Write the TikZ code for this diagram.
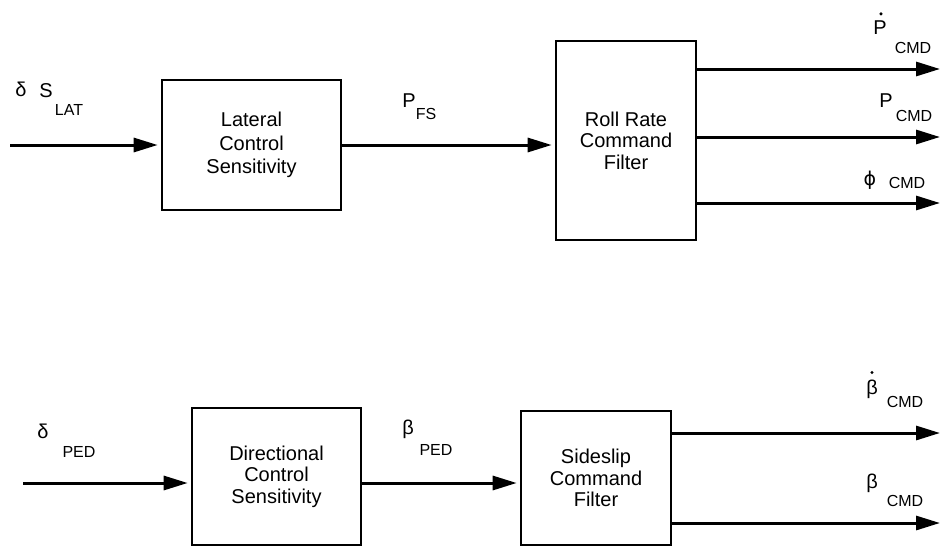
\documentclass[tikz,border=0pt]{standalone}
\usepackage{fontspec}
\setmainfont{Liberation Sans}
\newfontfamily\dvs{DejaVu Sans}
\usetikzlibrary{arrows.meta}
\begin{document}
\begin{tikzpicture}[x=1pt,y=-1pt,
  blk/.style={draw,line width=2.6pt,inner sep=0pt,align=center,font=\fontsize{20}{21.5}\selectfont},
  sig/.style={line width=3pt,-{Triangle[length=24pt,width=14pt]}},
  sym/.style={inner sep=0pt,font=\fontsize{20}{20}\selectfont},
  sub/.style={inner sep=0pt,font=\fontsize{16}{16}\selectfont},
  dotmark/.style={fill=black}
]
\useasboundingbox (0,0) rectangle (941,549);

% blocks
\node[blk,minimum width=179pt,minimum height=130pt,font=\fontsize{20}{23.5}\selectfont] (b1) at (251.5,145) {Lateral\\Control\\Sensitivity};
\node[blk,minimum width=140pt,minimum height=199pt] (b2) at (626,140.5) {Roll Rate\\Command\\Filter};
\node[blk,minimum width=169pt,minimum height=137pt] (b3) at (276.5,476.5) {Directional\\Control\\Sensitivity};
\node[blk,minimum width=150pt,minimum height=134pt] (b4) at (596,478) {Sideslip\\Command\\Filter};

% free ends
\coordinate (in1) at (10,145);
\coordinate (o1) at (940,69);
\coordinate (o2) at (940,137);
\coordinate (o3) at (940,203);
\coordinate (in2) at (23,483);
\coordinate (o4) at (940,433);
\coordinate (o5) at (940,523);

% connectors
\draw[sig,shorten >=3pt] (in1) -- (in1 -| b1.west);
\draw[sig,shorten >=3pt] (b1.east) -- (b1.east -| b2.west);
\draw[sig] (o1 -| b2.east) -- (o1);
\draw[sig] (o2 -| b2.east) -- (o2);
\draw[sig] (o3 -| b2.east) -- (o3);
\draw[sig,shorten >=3pt] (in2) -- (in2 -| b3.west);
\draw[sig,shorten >=3pt] (in2 -| b3.east) -- (in2 -| b4.west);
\draw[sig] (o4 -| b4.east) -- (o4);
\draw[sig] (o5 -| b4.east) -- (o5);

% labels
\node[sym] (l1a) at (21,89) {δ};
\node[sym] (l1b) at (46,91) {S};
\node[sub] (l1c) at (69,110) {LAT};

\node[sym] (l2a) at (409,101) {P};
\node[sub] (l2b) at (426,114) {FS};

\node[sym] (l3a) at (880,28) {P};
\fill[dotmark] (l3a.north) ++(1,-7) circle (1.7pt);
\node[sub] (l3b) at (913,48) {CMD};

\node[sym] (l4a) at (886,101) {P};
\node[sub] (l4b) at (914,116) {CMD};

\node[sym,font=\fontsize{19}{19}\dvs] (l5a) at (870,180) {ϕ};
\node[sub] (l5b) at (907,183) {CMD};

\node[sym] (l6a) at (43,431) {δ};
\node[sub] (l6b) at (79,452) {PED};

\node[sym] (l7a) at (408,429) {β};
\node[sub] (l7b) at (436,450) {PED};

\node[sym] (l8a) at (872,389) {β};
\fill[dotmark] (l8a.north) ++(0,-7) circle (1.7pt);
\node[sub] (l8b) at (905,402) {CMD};

\node[sym] (l9a) at (872,483) {β};
\node[sub] (l9b) at (905,501) {CMD};
\end{tikzpicture}
\end{document}
